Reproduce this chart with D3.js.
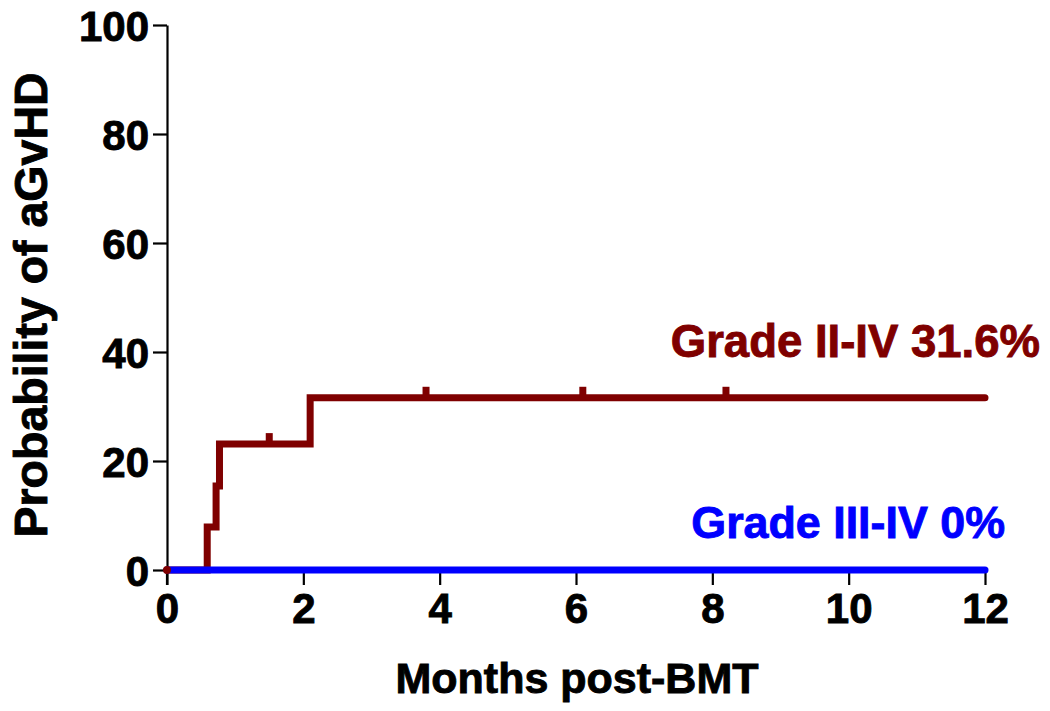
<!DOCTYPE html>
<html><head><meta charset="utf-8">
<script src="https://cdn.jsdelivr.net/npm/d3@7"></script>
<style>body{margin:0;background:#fff}svg{display:block}text{font-family:"Liberation Sans",Arial,sans-serif;font-weight:bold}</style>
</head><body>
<svg id="c" width="1050" height="711"></svg>
<script>
// Data
const xTicks = [0, 2, 4, 6, 8, 10, 12];
const yTicks = [0, 20, 40, 60, 80, 100];
const gradeIItoIV_times = [0, 0.59, 0.72, 0.77, 2.1, 12];
const gradeIItoIV_values = [0, 7.9, 15.4, 23.1, 31.6, 31.6];
const gradeIItoIV_censor = [1.5, 3.8, 6.1, 8.2];
const gradeIIItoIV_times = [0, 12];
const gradeIIItoIV_values = [0, 0];
const labels = {red: "Grade II-IV 31.6%", blue: "Grade III-IV 0%"};

const svg = d3.select("#c");
const x = d3.scaleLinear().domain([0, 12]).range([167, 985]);
const y = d3.scaleLinear().domain([0, 100]).range([570, 25]);
const red = "#7f0000", blue = "#0000ff";

// axes
const yAxis = svg.append("g").attr("transform", "translate(167,0)")
  .call(d3.axisLeft(y).tickValues(yTicks).tickSize(14).tickPadding(4).tickSizeOuter(0));
const xAxis = svg.append("g").attr("transform", "translate(0,570)")
  .call(d3.axisBottom(x).tickValues(xTicks).tickSize(15).tickPadding(6).tickSizeOuter(0));
[yAxis, xAxis].forEach(g => {
  g.selectAll("path.domain").attr("stroke", "#000").attr("stroke-width", 2.2);
  g.selectAll(".tick line").attr("stroke", "#000").attr("stroke-width", 2.2);
  g.selectAll(".tick text").attr("fill", "#000").attr("stroke", "#000").attr("stroke-width", 0.9)
    .style("font-size", "42px").style("font-family", "'Liberation Sans',Arial,sans-serif").style("font-weight", "bold");
});
yAxis.selectAll(".tick text").attr("dy", "0.36em");
xAxis.selectAll(".tick text").attr("dy", "0.76em");
// y axis extends below zero
svg.append("line").attr("x1", 167).attr("x2", 167).attr("y1", y(0)).attr("y2", y(0) + 15).attr("stroke", "#000").attr("stroke-width", 2.2);

// step line
const redPts = gradeIItoIV_times.map((t, i) => [t, gradeIItoIV_values[i]]);
const line = d3.line().x(d => x(d[0])).y(d => y(d[1])).curve(d3.curveStepAfter);
svg.append("path").attr("d", line(redPts)).attr("fill", "none").attr("stroke", red)
  .attr("stroke-width", 7).attr("stroke-linecap", "round").attr("stroke-linejoin", "miter");

// censor marks
const stepVal = t => { let v = 0; gradeIItoIV_times.forEach((tt, i) => { if (tt <= t) v = gradeIItoIV_values[i]; }); return v; };
svg.selectAll("line.cens").data(gradeIItoIV_censor).enter().append("line")
  .attr("x1", d => x(d)).attr("x2", d => x(d))
  .attr("y1", d => y(stepVal(d))).attr("y2", d => y(stepVal(d)) - 11)
  .attr("stroke", red).attr("stroke-width", 7);

// blue line
const bluePts = gradeIIItoIV_times.map((t, i) => [t, gradeIIItoIV_values[i]]);
svg.append("path").attr("d", line(bluePts)).attr("fill", "none").attr("stroke", blue)
  .attr("stroke-width", 7).attr("stroke-linecap", "round");

// start dot
svg.append("circle").attr("cx", x(0)).attr("cy", y(0)).attr("r", 4).attr("fill", red);

// annotations
svg.append("text").attr("x", 1040).attr("y", 357).attr("text-anchor", "end").attr("fill", red)
  .attr("stroke", red).attr("stroke-width", 0.9)
  .style("font-size", "45.5px").text(labels.red);
svg.append("text").attr("x", 1005).attr("y", 538).attr("text-anchor", "end").attr("fill", blue)
  .attr("stroke", blue).attr("stroke-width", 0.9)
  .style("font-size", "44.8px").text(labels.blue);

// axis titles
svg.append("text").attr("x", 577).attr("y", 693).attr("text-anchor", "middle").attr("fill", "#000")
  .attr("stroke", "#000").attr("stroke-width", 0.9)
  .style("font-size", "43px").text("Months post-BMT");
svg.append("text").attr("transform", "translate(47,305) rotate(-90)").attr("text-anchor", "middle").attr("fill", "#000")
  .attr("stroke", "#000").attr("stroke-width", 0.9)
  .style("font-size", "46.5px").text("Probability of aGvHD");
</script>
</body></html>
